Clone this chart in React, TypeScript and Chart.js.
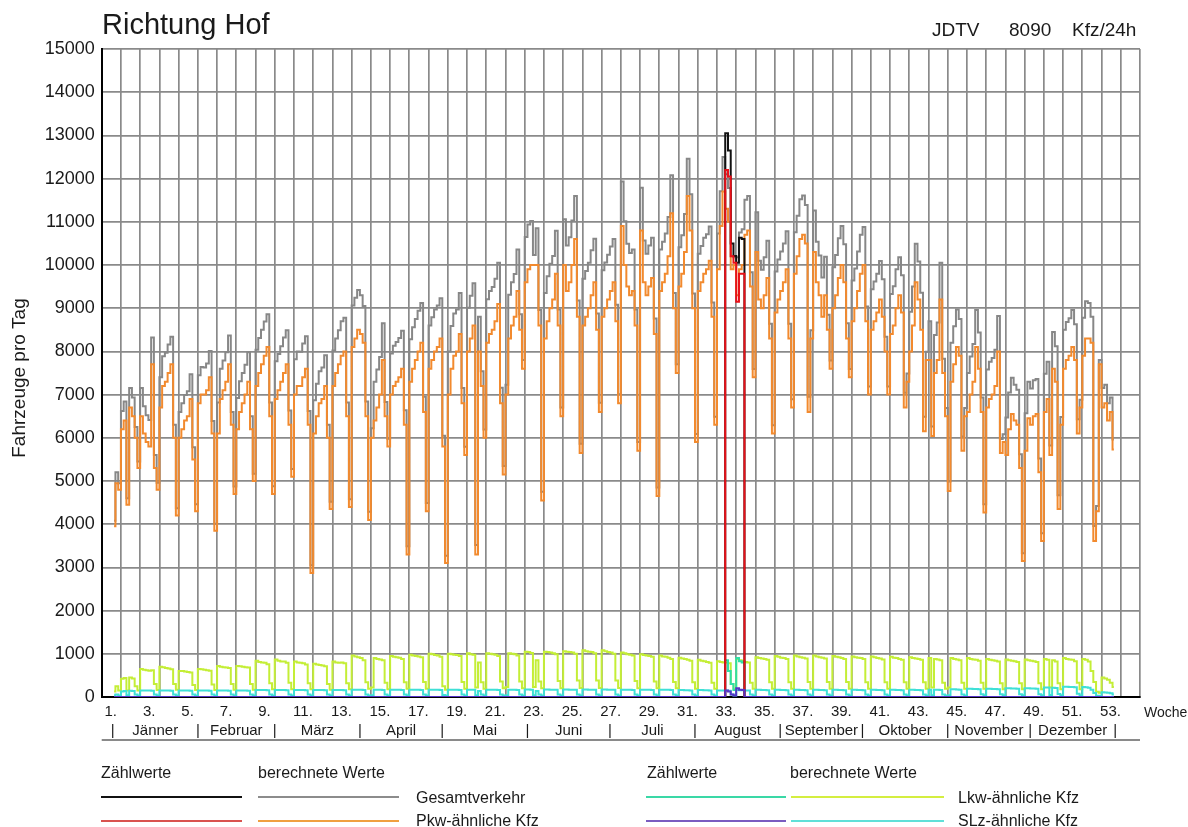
import React, { useEffect, useRef } from 'react';
import { Chart, registerables } from 'chart.js';

Chart.register(...registerables);

const FONT = '"Liberation Sans", Arial, Helvetica, sans-serif';
const GRID = '#8a8a8a';

// Day index 0 = Monday of week 1 (28 Dec); 1 January = day index 4
const FIRST_DAY = 4;
const LAST_WEEK_END = 378; // 54 week columns
const COUNT_START = 227; // first day index of the manual count (12 Aug)

// Pkw-ähnliche Kfz, berechnete Werte (one value per day, Mon..Sun per line)
const pkwCalc = [
  3950, 4950, 4800,
  6200, 6400, 4450, 6700, 6500, 6000, 5300,
  6500, 6100, 5900, 5800, 7700, 5300, 4800,
  6700, 7200, 7300, 7500, 7700, 6000, 4200,
  6000, 6200, 6400, 6500, 6900, 5500, 4300,
  6800, 7000, 7000, 7100, 7400, 6100, 3850,
  6100, 6900, 7100, 7300, 7700, 6300, 4700,
  6200, 6600, 6800, 7000, 7300, 6200, 5000,
  7200, 7500, 7700, 7900, 8100, 6500, 4700,
  6900, 7100, 7300, 7500, 7700, 6300, 5100,
  7000, 7200, 7200, 7400, 7600, 6300, 2870,
  6100, 6500, 6800, 6900, 7200, 6000, 4350,
  7200, 7500, 7700, 7900, 8000, 6500, 4400,
  8100, 8300, 8500, 8400, 8200, 6500, 4100,
  6000, 6400, 6700, 7000, 7800, 6500, 5800,
  7000, 7200, 7300, 7400, 7600, 6300, 3300,
  7300, 7600, 7800, 8000, 8200, 6600, 4300,
  7600, 7800, 8000, 8100, 8300, 5800, 3100,
  7000, 7600, 7900, 8000, 8400, 6800, 5600,
  8000, 8300, 8600, 3300, 8000, 7200, 6000,
  8200, 8400, 8500, 8700, 9100, 6800, 5150,
  7000, 8300, 8600, 8800, 9400, 8500, 7600,
  9600, 9900, 10000, 10000, 10000, 8600, 4550,
  8300, 8700, 9000, 9200, 9800, 8600, 6500,
  10000, 9400, 9600, 10000, 10600, 8800, 5650,
  8600, 8800, 9000, 9300, 9600, 8500, 6600,
  8800, 9000, 9200, 9400, 9600, 8700, 6800,
  10900, 10000, 9500, 9300, 9400, 8600, 5700,
  10800, 9600, 9300, 9500, 9700, 8400, 4650,
  9400, 9600, 9800, 10200, 11200, 9000, 7500,
  9500, 9800, 10300, 11600, 10800, 9000, 5900,
  9400, 9600, 9800, 9900, 10100, 8800, 6300,
  9900, 10900, 11700, 11300, 11000, 9900, 10000,
  9300, 9900, 10000, 10700, 10800, 9500, 7400,
  10300, 9200, 9000, 9300, 9700, 8300, 6100,
  8900, 9200, 9400, 9600, 9900, 8300, 6700,
  9800, 10200, 10600, 10700, 10500, 6600, 8300,
  10300, 9600, 9300, 8800, 9300, 8500, 7600,
  9000, 9300, 9700, 10000, 9600, 8300, 7400,
  8700, 9000, 9400, 9800, 10000, 8700, 7000,
  8500, 8700, 8900, 9200, 8800, 8000, 7000,
  8400, 8600, 9000, 9300, 8900, 6700, 7300,
  8000, 8600, 9600, 9200, 8500, 6150, 7800,
  7800, 6040, 7500, 7800, 9200, 7500, 6500,
  4770, 7300, 7700, 8100, 7900, 5700, 6500,
  6600, 7000, 7300, 8100, 7600, 6600, 4270,
  6700, 6900, 7000, 7200, 8000, 5650, 5900,
  5600, 6200, 6550, 6400, 6300, 5300, 3150,
  5700, 6450, 6300, 6500, 6550, 5200, 3610,
  6600, 6900, 5600, 7600, 7300, 4350, 6300,
  7600, 7800, 7900, 8100, 7800, 6100, 6700,
  7900, 8300, 8300, 8200, 3610, 4300, 7700,
  6700, 6800, 6400, 6600, 5730,
];

// Gesamtverkehr, berechnete Werte
const gesamtCalc = [
  4080, 5200, 4950,
  6620, 6840, 4600, 7150, 6930, 6250, 5450,
  7150, 6730, 6520, 6410, 8320, 5600, 4960,
  7400, 7890, 7970, 8160, 8340, 6300, 4370,
  6600, 6800, 6990, 7080, 7470, 5780, 4460,
  7450, 7640, 7630, 7720, 8010, 6390, 4010,
  6820, 7600, 7790, 7980, 8370, 6600, 4870,
  6920, 7310, 7500, 7690, 7980, 6500, 5170,
  8040, 8310, 8500, 8690, 8860, 6820, 4880,
  7770, 7940, 8120, 8320, 8490, 6630, 5280,
  7820, 8000, 7990, 8180, 8350, 6620, 3050,
  6870, 7250, 7540, 7630, 7910, 6300, 4520,
  8020, 8300, 8490, 8700, 8780, 6820, 4580,
  9060, 9240, 9420, 9300, 9050, 6840, 4290,
  6220, 7300, 7580, 7870, 8650, 6830, 5980,
  7950, 8130, 8220, 8310, 8480, 6640, 3490,
  8280, 8560, 8750, 8940, 9120, 6950, 4490,
  8600, 8790, 8970, 9060, 9230, 6050, 3270,
  8000, 8590, 8880, 8970, 9350, 7150, 5790,
  9010, 9290, 9580, 3520, 8800, 7540, 6190,
  9210, 9400, 9490, 9680, 10050, 7160, 5350,
  7230, 9310, 9600, 9790, 10360, 8860, 7800,
  10650, 10940, 11020, 10230, 10850, 8960, 4750,
  9350, 9740, 10030, 10210, 10790, 8970, 6700,
  11060, 10450, 10640, 11030, 11600, 9180, 5860,
  9680, 9860, 10050, 10340, 10610, 8880, 6810,
  9880, 10060, 10240, 10430, 10600, 9080, 7010,
  11930, 11010, 10490, 10280, 10360, 8970, 5900,
  11790, 10570, 10260, 10450, 10630, 8760, 4850,
  10360, 10540, 10730, 11110, 12080, 9350, 7700,
  10410, 10690, 11180, 12460, 11640, 9340, 6090,
  10260, 10440, 10630, 10710, 10890, 9130, 6490,
  10730, 11710, 12500, 12100, 11780, 10200, 10180,
  10180, 10750, 10830, 11510, 11600, 9830, 7590,
  11220, 10100, 9890, 10180, 10560, 8640, 6290,
  9850, 10130, 10310, 10500, 10780, 8640, 6890,
  10760, 11140, 11520, 11610, 11390, 6950, 8490,
  11260, 10540, 10220, 9710, 10190, 8850, 7790,
  9950, 10230, 10620, 10900, 10480, 8650, 7590,
  9640, 9920, 10310, 10700, 10880, 9040, 7190,
  9440, 9620, 9800, 10090, 9670, 8340, 7190,
  9330, 9510, 9900, 10180, 9760, 7040, 7490,
  8920, 9500, 10490, 10080, 9360, 6490, 7990,
  8700, 6260, 8380, 8670, 10050, 7830, 6690,
  4990, 8200, 8580, 8970, 8750, 6030, 6690,
  7500, 7880, 8170, 8960, 8440, 6930, 4460,
  7580, 7760, 7850, 8040, 8820, 5970, 6080,
  6470, 7050, 7390, 7230, 7110, 5620, 3330,
  6570, 7300, 7140, 7330, 7360, 5520, 3790,
  7480, 7760, 5820, 8450, 8120, 4670, 6480,
  8500, 8680, 8770, 8960, 8630, 6430, 6880,
  8780, 9160, 9120, 8800, 3960, 4420, 7800,
  7150, 7230, 6800, 6930, 5960,
];

// Lkw-ähnliche Kfz, berechnete Werte
const lkwCalc = [
  130, 250, 150,
  420, 440, 150, 450, 430, 250, 150,
  650, 630, 620, 610, 620, 300, 160,
  700, 690, 670, 660, 640, 300, 170,
  600, 600, 590, 580, 570, 280, 160,
  650, 640, 630, 620, 610, 290, 160,
  720, 700, 690, 680, 670, 300, 170,
  720, 710, 700, 690, 680, 300, 170,
  840, 810, 800, 790, 760, 320, 180,
  870, 840, 820, 820, 790, 330, 180,
  820, 800, 790, 780, 750, 320, 180,
  770, 750, 740, 730, 710, 300, 170,
  820, 800, 790, 800, 780, 320, 180,
  960, 940, 920, 900, 850, 340, 190,
  220, 900, 880, 870, 850, 330, 180,
  950, 930, 920, 910, 880, 340, 190,
  980, 960, 950, 940, 920, 350, 190,
  1000, 990, 970, 960, 930, 250, 170,
  1000, 990, 980, 970, 950, 350, 190,
  1010, 990, 980, 220, 800, 340, 190,
  1010, 1000, 990, 980, 950, 360, 200,
  230, 1010, 1000, 990, 960, 360, 200,
  1050, 1040, 1020, 230, 850, 360, 200,
  1050, 1040, 1030, 1010, 990, 370, 200,
  1060, 1050, 1040, 1030, 1000, 380, 210,
  1080, 1060, 1050, 1040, 1010, 380, 210,
  1080, 1060, 1040, 1030, 1000, 380, 210,
  1030, 1010, 990, 980, 960, 370, 200,
  990, 970, 960, 950, 930, 360, 200,
  960, 940, 930, 910, 880, 350, 200,
  910, 890, 880, 860, 840, 340, 190,
  860, 840, 830, 810, 790, 330, 190,
  830, 810, 800, 800, 780, 300, 180,
  880, 850, 830, 810, 800, 330, 190,
  920, 900, 890, 880, 860, 340, 190,
  950, 930, 910, 900, 880, 340, 190,
  960, 940, 920, 910, 890, 350, 190,
  960, 940, 920, 910, 890, 350, 190,
  950, 930, 920, 900, 880, 350, 190,
  940, 920, 910, 900, 880, 340, 190,
  940, 920, 900, 890, 870, 340, 190,
  930, 910, 900, 880, 860, 340, 190,
  920, 900, 890, 880, 860, 340, 190,
  900, 220, 880, 870, 850, 330, 190,
  220, 900, 880, 870, 850, 330, 190,
  900, 880, 870, 860, 840, 330, 190,
  880, 860, 850, 840, 820, 320, 180,
  870, 850, 840, 830, 810, 320, 180,
  870, 850, 840, 830, 810, 320, 180,
  880, 860, 220, 850, 820, 320, 180,
  900, 880, 870, 860, 830, 330, 180,
  880, 860, 820, 600, 350, 120, 100,
  450, 430, 400, 330, 230,
];

// SLz-ähnliche Kfz, berechnete Werte
const slzCalc = [
  40, 60, 35,
  130, 140, 40, 145, 140, 60, 35,
  150, 150, 150, 150, 145, 60, 35,
  150, 150, 150, 150, 145, 60, 35,
  150, 150, 150, 150, 145, 60, 35,
  150, 150, 150, 150, 145, 60, 35,
  150, 150, 150, 150, 145, 60, 35,
  150, 150, 150, 150, 145, 60, 35,
  160, 160, 160, 160, 155, 60, 35,
  160, 160, 160, 160, 155, 60, 35,
  160, 160, 160, 160, 155, 60, 35,
  160, 160, 160, 160, 155, 60, 35,
  160, 160, 160, 160, 155, 60, 35,
  170, 170, 165, 165, 160, 60, 35,
  40, 165, 165, 165, 160, 60, 35,
  165, 165, 165, 165, 160, 60, 35,
  165, 165, 165, 165, 160, 60, 35,
  170, 170, 170, 165, 160, 45, 35,
  170, 170, 170, 165, 160, 60, 35,
  170, 170, 170, 40, 140, 60, 35,
  170, 170, 170, 165, 160, 60, 35,
  40, 170, 170, 165, 160, 60, 35,
  175, 175, 170, 40, 140, 60, 35,
  175, 175, 170, 170, 165, 60, 35,
  175, 175, 170, 170, 165, 60, 35,
  175, 175, 170, 170, 165, 60, 35,
  175, 175, 170, 170, 165, 60, 35,
  170, 170, 165, 165, 160, 60, 35,
  170, 170, 165, 165, 160, 60, 35,
  170, 170, 165, 165, 160, 60, 35,
  160, 160, 155, 155, 150, 55, 35,
  160, 160, 155, 155, 150, 55, 35,
  150, 150, 150, 150, 145, 55, 35,
  160, 155, 155, 150, 150, 55, 35,
  165, 165, 160, 160, 155, 60, 35,
  165, 165, 160, 160, 155, 60, 35,
  165, 165, 160, 160, 155, 60, 35,
  165, 165, 160, 160, 155, 60, 35,
  165, 165, 160, 160, 155, 60, 35,
  165, 165, 160, 160, 155, 60, 35,
  165, 165, 160, 160, 155, 60, 35,
  165, 165, 160, 160, 155, 60, 35,
  165, 165, 160, 160, 155, 60, 35,
  170, 40, 165, 165, 160, 60, 35,
  40, 180, 180, 175, 170, 60, 35,
  190, 190, 185, 185, 180, 65, 40,
  190, 190, 185, 185, 180, 65, 40,
  200, 200, 195, 195, 190, 65, 40,
  200, 200, 195, 195, 190, 65, 40,
  220, 220, 45, 215, 210, 70, 40,
  235, 235, 230, 230, 225, 75, 40,
  230, 225, 215, 170, 90, 30, 25,
  110, 105, 100, 85, 60,
];

// Zählwerte (manual count, 12.–18. August); 0 outside the count week
const gesamtCount = [13050, 12650, 10500, 10210, 10050, 10630, 10600];
const pkwCount = [12200, 12050, 10200, 10050, 9150, 9800, 9800];
const lkwCount = [850, 600, 300, 160, 900, 830, 800];
const slzCount = [150, 130, 60, 35, 200, 170, 160];

// Axis / label texts
const weekTickLabels = Array.from({ length: 53 }, (_, i) => `${i + 1}.`);
const monthNames = ['Jänner', 'Februar', 'März', 'April', 'Mai', 'Juni', 'Juli', 'August', 'September', 'Oktober', 'November', 'Dezember'];
const monthStartDay = [0, 31, 59, 90, 120, 151, 181, 212, 243, 273, 304, 334, 365];

function calcPoints(values: number[]) {
  return values.map((v, i) => ({ x: FIRST_DAY + i + 0.5, y: v }));
}

function countPoints(values: number[]) {
  return pkwCalc.map((_, i) => {
    const d = FIRST_DAY + i;
    const k = d - COUNT_START;
    return { x: d + 0.5, y: k >= 0 && k < values.length ? values[k] : 0 };
  });
}

const overlayPlugin = {
  id: 'overlay',
  afterDraw(chart: any) {
    const { ctx, chartArea } = chart;
    const xs = chart.scales.x;
    ctx.save();
    ctx.fillStyle = '#1a1a1a';
    ctx.textBaseline = 'alphabetic';
    ctx.textAlign = 'left';
    ctx.font = `29px ${FONT}`;
    ctx.fillText('Richtung Hof', 102, 34);
    ctx.font = `19px ${FONT}`;
    ctx.fillText('JDTV', 932, 36);
    ctx.fillText('8090', 1009, 36);
    ctx.fillText('Kfz/24h', 1072, 36);

    // y axis title
    ctx.save();
    ctx.translate(25, 378);
    ctx.rotate(-Math.PI / 2);
    ctx.textAlign = 'center';
    ctx.font = `19px ${FONT}`;
    ctx.fillText('Fahrzeuge pro Tag', 0, 0);
    ctx.restore();

    ctx.font = `14px ${FONT}`;
    ctx.textAlign = 'left';
    ctx.fillText('Woche', 1144, 717);

    // month row
    ctx.font = `15px ${FONT}`;
    ctx.textAlign = 'center';
    for (let m = 0; m < monthStartDay.length; m++) {
      const px = xs.getPixelForValue(FIRST_DAY + monthStartDay[m]);
      ctx.fillText('|', px, 735);
      if (m < monthNames.length) {
        const px2 = xs.getPixelForValue(FIRST_DAY + monthStartDay[m + 1]);
        ctx.fillText(monthNames[m], (px + px2) / 2, 735);
      }
    }
    ctx.strokeStyle = GRID;
    ctx.lineWidth = 2;
    ctx.beginPath();
    ctx.moveTo(chartArea.left, 740);
    ctx.lineTo(chartArea.right, 740);
    ctx.stroke();

    // legend
    ctx.font = `16px ${FONT}`;
    ctx.textAlign = 'left';
    ctx.fillStyle = '#1a1a1a';
    ctx.fillText('Zählwerte', 101, 778);
    ctx.fillText('berechnete Werte', 258, 778);
    ctx.fillText('Zählwerte', 647, 778);
    ctx.fillText('berechnete Werte', 790, 778);
    ctx.fillText('Gesamtverkehr', 416, 803);
    ctx.fillText('Pkw-ähnliche Kfz', 416, 826);
    ctx.fillText('Lkw-ähnliche Kfz', 958, 803);
    ctx.fillText('SLz-ähnliche Kfz', 958, 826);
    const seg = (x1: number, x2: number, y: number, c: string) => {
      ctx.strokeStyle = c;
      ctx.lineWidth = 2;
      ctx.beginPath();
      ctx.moveTo(x1, y);
      ctx.lineTo(x2, y);
      ctx.stroke();
    };
    seg(101, 242, 797, '#111111');
    seg(258, 399, 797, '#8c8c8c');
    seg(101, 242, 821, '#d9534f');
    seg(258, 399, 821, '#f0a040');
    seg(646, 786, 797, '#3ad8a6');
    seg(791, 944, 797, '#d4ee40');
    seg(646, 786, 821, '#7a5cc0');
    seg(791, 944, 821, '#60e0d8');
    ctx.restore();
  },
};

export default function App() {
  const ref = useRef<HTMLCanvasElement | null>(null);
  useEffect(() => {
    if (!ref.current) return;
    const common = { pointRadius: 0, borderWidth: 2, stepped: 'middle' as const, fill: false };
    const chart = new Chart(ref.current, {
      type: 'line',
      data: {
        datasets: [
          { label: 'SLz Zählwerte', data: countPoints(slzCount), borderColor: '#5534c8', ...common },
          { label: 'Pkw Zählwerte', data: countPoints(pkwCount), borderColor: '#e81018', ...common },
          { label: 'Gesamt Zählwerte', data: countPoints(gesamtCount), borderColor: '#111111', ...common },
          { label: 'Lkw Zählwerte', data: countPoints(lkwCount), borderColor: '#30dea6', ...common },
          { label: 'SLz berechnet', data: calcPoints(slzCalc), borderColor: '#3fe0d6', ...common },
          { label: 'Lkw berechnet', data: calcPoints(lkwCalc), borderColor: '#c4ee36', ...common },
          { label: 'Pkw berechnet', data: calcPoints(pkwCalc), borderColor: '#f28a2e', ...common },
          { label: 'Gesamt berechnet', data: calcPoints(gesamtCalc), borderColor: '#878787', ...common },
        ],
      },
      options: {
        animation: false,
        responsive: false,
        devicePixelRatio: 1,
        layout: { padding: { top: 49, right: 48, left: 0, bottom: 0 } },
        plugins: { legend: { display: false }, tooltip: { enabled: false } },
        scales: {
          x: {
            type: 'linear',
            min: 0,
            max: LAST_WEEK_END,
            afterBuildTicks: (s: any) => {
              const t = [];
              for (let v = 0; v <= LAST_WEEK_END; v += 7) t.push({ value: v });
              s.ticks = t;
            },
            afterFit: (s: any) => { s.height = 130; },
            ticks: {
              autoSkip: false,
              maxRotation: 0,
              padding: 6,
              labelOffset: 9,
              color: '#1a1a1a',
              font: { family: FONT, size: 15 },
              callback: (v: any) => {
                const w = Math.round(Number(v) / 7);
                return w % 2 === 0 && w < weekTickLabels.length ? weekTickLabels[w] : '';
              },
            },
            grid: { color: GRID, lineWidth: 1.7, drawTicks: false },
            border: { color: '#000', width: 2 },
          },
          y: {
            min: 0,
            max: 15000,
            afterFit: (s: any) => { s.width = 101.7; },
            ticks: {
              stepSize: 1000,
              padding: 7,
              color: '#1a1a1a',
              font: { family: FONT, size: 18 },
              callback: (v: any) => String(v),
            },
            grid: { color: GRID, lineWidth: 1.7, drawTicks: false },
            border: { color: '#000', width: 2 },
          },
        },
      },
      plugins: [overlayPlugin],
    });
    return () => chart.destroy();
  }, []);
  return (
    <div style={{ position: 'absolute', left: 0, top: 0, width: 1188, height: 827, background: '#fff' }}>
      <canvas ref={ref} width={1188} height={827} style={{ display: 'block' }} />
    </div>
  );
}
